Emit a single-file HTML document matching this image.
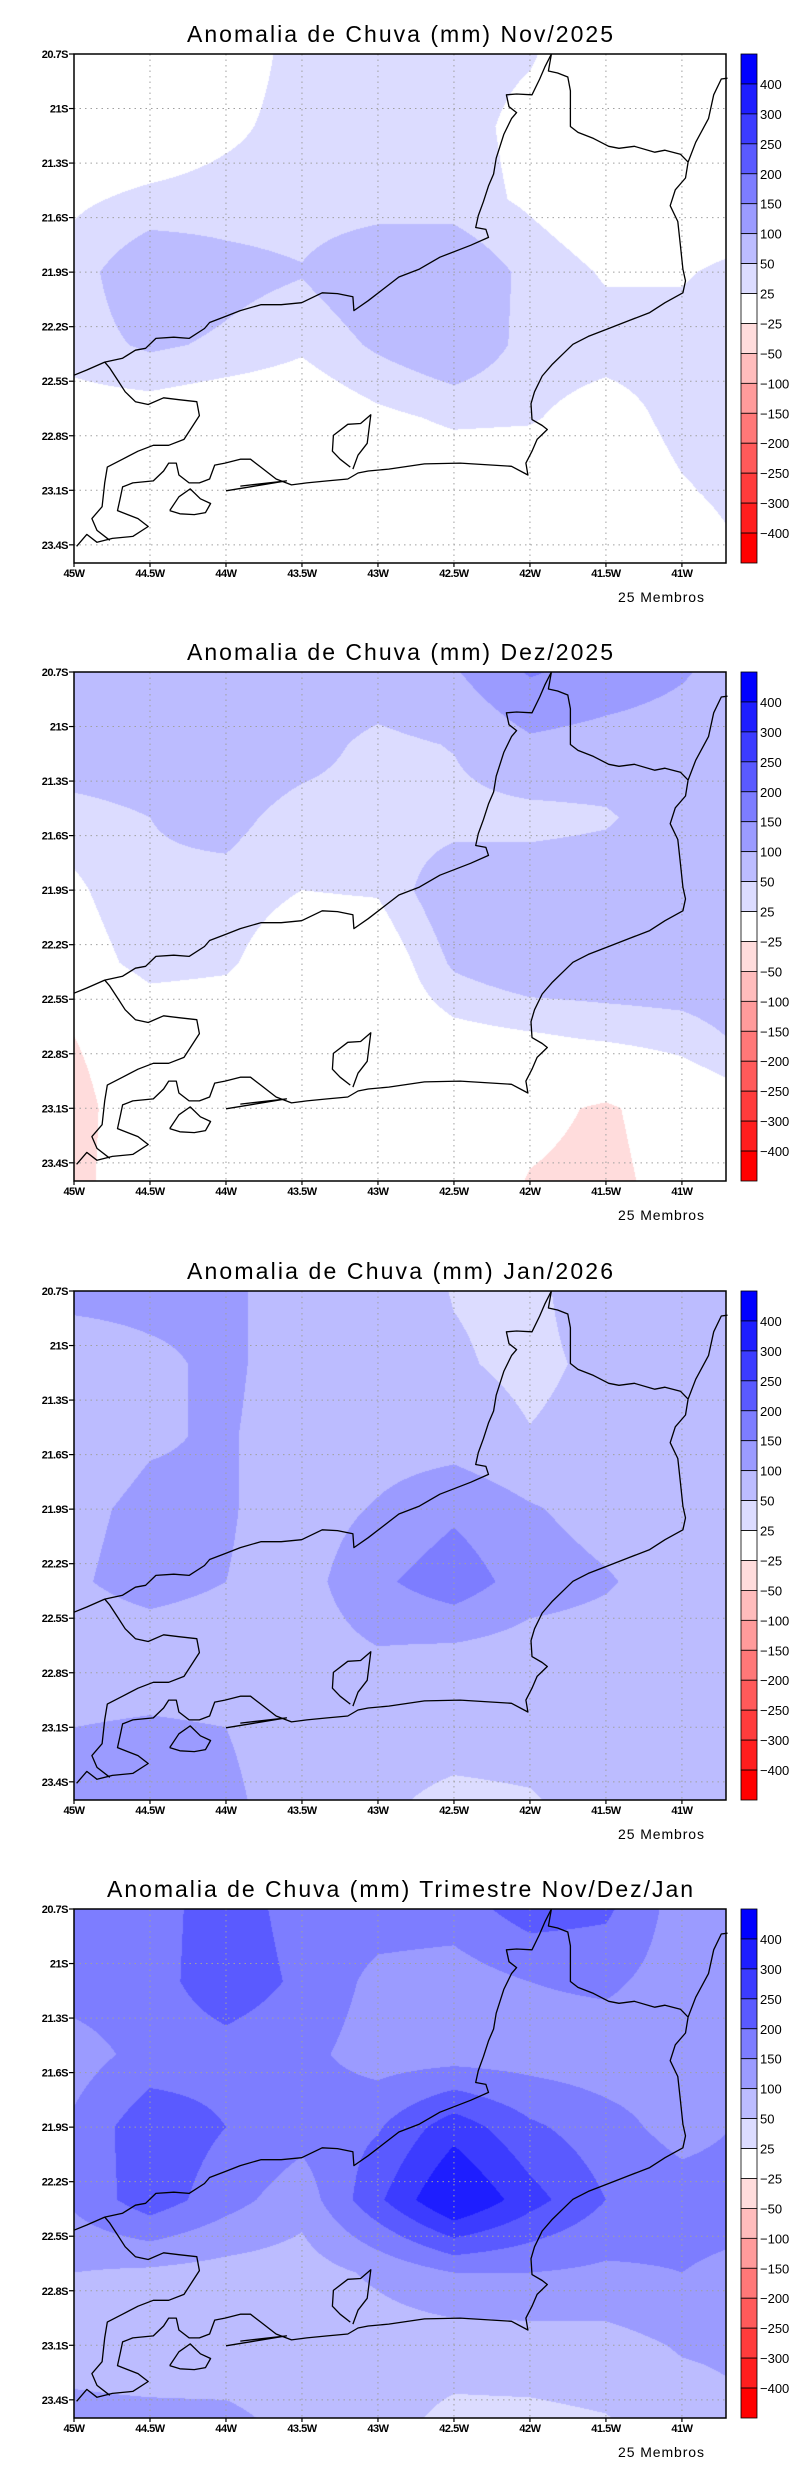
<!DOCTYPE html>
<html><head><meta charset="utf-8">
<style>
html,body{margin:0;padding:0;background:#fff;}
#root{position:relative;width:800px;height:2472px;overflow:hidden;background:#fff;}
.panel{position:absolute;left:0;width:800px;height:618px;}
canvas{position:absolute;left:74px;top:54px;}
svg.ov{position:absolute;left:0;top:0;}
</style></head>
<body>
<div id="root"></div>
<script>
// ---- Data ----
const lons = [-45,-44.5,-44,-43.5,-43,-42.5,-42,-41.5,-41,-40.5];
const lats = [-20.7,-21.1,-21.5,-21.9,-22.3,-22.7,-23.1,-23.5];
const novValues = [
 [0,0,5,37,37,37,28,0,0,0],
 [0,0,18,37,37,37,15,0,0,0],
 [20,32,37,37,37,37,20,0,0,0],
 [37,75,60,52,75,75,42,22,22,37],
 [37,55,45,30,55,75,40,37,37,37],
 [10,8,0,0,18,30,28,10,35,37],
 [15,0,0,0,0,0,0,0,22,37],
 [0,0,0,0,0,0,0,0,5,28]];
const dezValues = [
 [75,75,75,75,75,95,155,130,105,70],
 [75,75,75,65,40,52,90,80,75,75],
 [37,50,60,37,37,37,37,45,75,75],
 [20,45,40,25,28,75,75,75,75,75],
 [10,35,30,0,0,55,75,75,75,75],
 [-25,0,0,0,0,15,22,30,37,60],
 [-37,0,0,0,0,0,-15,-30,-5,15],
 [-35,0,0,0,0,0,-27,-35,-10,0]];
const janValues = [
 [115,115,110,75,75,48,40,75,75,75],
 [70,90,110,75,75,55,40,60,75,75],
 [75,95,105,75,75,75,52,65,75,75],
 [90,110,105,75,105,140,105,80,75,75],
 [95,115,100,80,140,180,125,105,75,75],
 [75,75,75,75,95,85,75,75,75,75],
 [100,105,100,75,75,75,75,75,75,75],
 [110,110,110,75,60,37,45,75,75,75]];
const triValues = [
 [175,180,225,180,175,175,225,210,125,160],
 [175,180,230,190,135,125,150,160,125,125],
 [125,170,180,165,125,125,125,120,125,125],
 [160,235,200,170,195,280,210,170,130,160],
 [160,230,170,120,240,360,270,200,175,175],
 [100,90,80,75,110,150,150,140,150,130],
 [85,75,70,70,70,70,75,80,105,110],
 [110,110,110,85,65,40,40,48,75,100]];
const panelTitles = ["Anomalia de Chuva (mm) Nov/2025","Anomalia de Chuva (mm) Dez/2025","Anomalia de Chuva (mm) Jan/2026","Anomalia de Chuva (mm) Trimestre Nov/Dez/Jan"];
const levels = [400,300,250,200,150,100,50,25,-25,-50,-100,-150,-200,-250,-300,-400];
const levelLabels = ["400","300","250","200","150","100","50","25","\u221225","\u221250","\u2212100","\u2212150","\u2212200","\u2212250","\u2212300","\u2212400"];
const levelColors = ["#0000ff","#1e1eff","#3c3cff","#5a5aff","#7d7dff","#9b9bff","#bcbcff","#dcdcff","#ffffff","#ffdcdc","#ffbcbc","#ff9b9b","#ff7878","#ff5a5a","#ff3c3c","#ff1e1e","#ff0000"];
const xTickLons = [-45,-44.5,-44,-43.5,-43,-42.5,-42,-41.5,-41];
const xTickLabels = ["45W","44.5W","44W","43.5W","43W","42.5W","42W","41.5W","41W"];
const yTickLats = [-20.7,-21,-21.3,-21.6,-21.9,-22.2,-22.5,-22.8,-23.1,-23.4];
const yTickLabels = ["20.7S","21S","21.3S","21.6S","21.9S","22.2S","22.5S","22.8S","23.1S","23.4S"];
const allValues = [novValues,dezValues,janValues,triValues];
// coastline / borders traced in reference-image units (converted to lon/lat below)
const refBorderRJ = [[145,948],[170,935],[205,915],[240,905],[265,885],[285,880],[305,855],[340,852],[370,855],[400,830],[410,815],[440,800],[470,785],[510,770],[550,770],[590,765],[630,740],[660,742],[690,750],[692,785],[720,760],[760,720],[780,700],[820,680],[860,650],[920,620],[955,600],[950,580],[930,575],[935,545],[945,510],[955,470],[965,440],[970,400],[985,340],[1000,300],[1010,285],[995,270],[990,240],[1010,238],[1040,240],[1055,200],[1065,170],[1078,137]];
const refBorderES = [[1078,137],[1072,180],[1090,185],[1110,195],[1115,230],[1115,320],[1130,335],[1160,350],[1190,370],[1210,375],[1240,370],[1280,385],[1300,380],[1330,390],[1345,410]];
const refCoastES = [[1345,410],[1360,360],[1385,300],[1395,240],[1410,200],[1422,198]];
const refCoastRJ = [[1345,410],[1340,450],[1320,480],[1310,520],[1325,560],[1330,620],[1335,680],[1340,710],[1335,740],[1300,765],[1270,790],[1230,810],[1190,830],[1150,850],[1120,870],[1100,895],[1080,920],[1060,950],[1045,990],[1038,1020],[1040,1060],[1060,1075],[1070,1085],[1050,1110],[1040,1140],[1028,1170],[1032,1200],[1000,1178],[900,1170],[830,1172],[760,1185],[720,1190],[700,1195],[680,1210],[640,1215],[600,1220],[570,1225],[540,1210],[510,1180],[490,1160],[470,1160],[440,1170],[420,1175],[410,1210],[390,1220],[370,1220],[350,1200],[345,1170],[330,1170],[320,1190],[300,1215],[260,1220],[240,1230],[235,1260],[230,1290],[250,1300],[270,1310],[290,1330],[260,1355],[220,1360],[190,1370],[170,1350],[150,1380]];
const refBorderSP = [[205,915],[215,930],[230,960],[245,990],[265,1015],[290,1022],[320,1005],[350,1010],[385,1015],[390,1050],[375,1080],[360,1110],[330,1125],[300,1125],[270,1140],[240,1160],[210,1180],[205,1220],[200,1280],[180,1310],[190,1340],[215,1365]];
const refGuanabara = [[690,1185],[700,1150],[718,1120],[725,1048],[705,1070],[680,1072],[652,1100],[650,1140],[665,1160],[685,1180]];
const refIlhaGrande = [[332,1290],[350,1255],[372,1235],[392,1260],[412,1272],[402,1295],[380,1300],[352,1298],[332,1290]];
const refSepetiba = [[442,1240],[560,1215],[470,1228]];

// ---- Geometry ----
const MX=74, MW=652, MH=509, LON0=-45, LON1=-40.71, LAT0=-20.7, LAT1=-23.5;
function xOf(lon){return MX+(lon-LON0)/(LON1-LON0)*MW;}
function yOf(lat,top){return top+(LAT0-lat)/(LAT0-LAT1)*MH;}
function refToGeo(p){return [-45+(p[0]-145)/297, -20.7-(p[1]-137)/459];}
function hexRGB(h){return [parseInt(h.substr(1,2),16),parseInt(h.substr(3,2),16),parseInt(h.substr(5,2),16)];}
function sample(grid,lon,lat){
  let s=(lon-lons[0])/(lons[1]-lons[0]); let t=(lats[0]-lat)/(lats[0]-lats[1]);
  s=Math.max(0,Math.min(lons.length-1.0001,s)); t=Math.max(0,Math.min(lats.length-1.0001,t));
  const i=Math.floor(s), j=Math.floor(t), fs=s-i, ft=t-j;
  const a=grid[j][i], b=grid[j][i+1], c=grid[j+1][i], d=grid[j+1][i+1];
  return (a*(1-fs)+b*fs)*(1-ft)+(c*(1-fs)+d*fs)*ft;
}
const NS="http://www.w3.org/2000/svg";
function el(tag,attrs,parent){const e=document.createElementNS(NS,tag);for(const k in attrs)e.setAttribute(k,attrs[k]);if(parent)parent.appendChild(e);return e;}

const root=document.getElementById('root');
const panelTops=[54,672,1291,1909];
const names=["nov-2025","dez-2025","jan-2026","trimestre"];
const rgbCache=levelColors.map(hexRGB);

allValues.forEach((grid,pi)=>{
  const top=panelTops[pi];
  const panel=document.createElement('div');
  panel.className='panel';
  panel.style.top='0px';
  
  
  root.appendChild(panel);
  const cv=document.createElement('canvas');
  cv.width=MW; cv.height=MH; cv.style.top=top+'px';
  
  
  panel.appendChild(cv);
  const ctx=cv.getContext('2d'); const img=ctx.createImageData(MW,MH);
  for(let py=0;py<MH;py++){
    const lat=LAT0-(py+0.5)/MH*(LAT0-LAT1);
    for(let px=0;px<MW;px++){
      const lon=LON0+(px+0.5)/MW*(LON1-LON0);
      const v=sample(grid,lon,lat);
      let ci=levelColors.length-1;
      for(let k=0;k<levels.length;k++){ if(v>levels[k]){ci=k;break;} }
      const c=rgbCache[ci]; const o=(py*MW+px)*4;
      img.data[o]=c[0];img.data[o+1]=c[1];img.data[o+2]=c[2];img.data[o+3]=255;
    }
  }
  ctx.putImageData(img,0,0);

  const svg=el('svg',{class:'ov',width:800,height:2472,viewBox:'0 0 800 2472'},panel);
  
  
  const tt=el('text',{x:400,y:top-12,'text-anchor':'middle','font-family':'Liberation Sans, sans-serif','font-size':23,fill:'#000',textLength:(pi===3?586:426),lengthAdjust:'spacing'},svg);
  tt.textContent=panelTitles[pi];
  
  
  xTickLons.slice(1).forEach(lon=>{
    const g=el('line',{x1:xOf(lon),x2:xOf(lon),y1:top,y2:top+MH,stroke:'#a0a0a0','stroke-width':1,'stroke-dasharray':'1.5,4'},svg);
    
    
  });
  yTickLats.slice(1).forEach(lat=>{
    const g=el('line',{x1:MX,x2:MX+MW,y1:yOf(lat,top),y2:yOf(lat,top),stroke:'#a0a0a0','stroke-width':1,'stroke-dasharray':'1.5,4'},svg);
    
    
  });
  [refBorderRJ,refBorderES,refCoastES,refCoastRJ,refBorderSP,refGuanabara,refIlhaGrande,refSepetiba].forEach(line=>{
    const pts=line.map(refToGeo).map(g=>xOf(g[0]).toFixed(1)+','+yOf(g[1],top).toFixed(1)).join(' ');
    const pl=el('polyline',{points:pts,fill:'none',stroke:'#000','stroke-width':1.3,'stroke-linejoin':'round'},svg);
    
    
  });
  const fr=el('rect',{x:MX,y:top,width:MW,height:MH,fill:'none',stroke:'#000','stroke-width':1.5},svg);
  
  
  yTickLats.forEach((lat,i)=>{
    const y=yOf(lat,top);
    el('line',{x1:MX-5,x2:MX,y1:y,y2:y,stroke:'#000','stroke-width':1.2},svg);
    const t=el('text',{x:MX-6,y:y+4,'text-anchor':'end','font-family':'Liberation Sans, sans-serif','font-size':11,'font-weight':'bold','letter-spacing':'-0.5'},svg);
    t.textContent=yTickLabels[i];
    
    
  });
  xTickLons.forEach((lon,i)=>{
    const x=xOf(lon);
    el('line',{x1:x,x2:x,y1:top+MH,y2:top+MH+4,stroke:'#000','stroke-width':1.2},svg);
    const t=el('text',{x:x,y:top+MH+14,'text-anchor':'middle','font-family':'Liberation Sans, sans-serif','font-size':11,'font-weight':'bold','letter-spacing':'-0.5'},svg);
    t.textContent=xTickLabels[i];
    
    
  });
  const cbX=741, cbW=16, bh=MH/levelColors.length;
  levelColors.forEach((c,i)=>{
    const r=el('rect',{x:cbX,y:top+i*bh,width:cbW,height:bh,fill:c,stroke:'#000','stroke-width':0.8},svg);
    
    
  });
  levelLabels.forEach((lab,i)=>{
    const t=el('text',{x:cbX+cbW+3,y:top+(i+1)*bh+5,'font-family':'Liberation Sans, sans-serif','font-size':13},svg);
    t.textContent=lab;
    
    
  });
  const m=el('text',{x:618,y:top+548,'font-family':'Liberation Sans, sans-serif','font-size':14,textLength:86,lengthAdjust:'spacing'},svg);
  m.textContent='25 Membros';
  
  
});
</script>
</body></html>
